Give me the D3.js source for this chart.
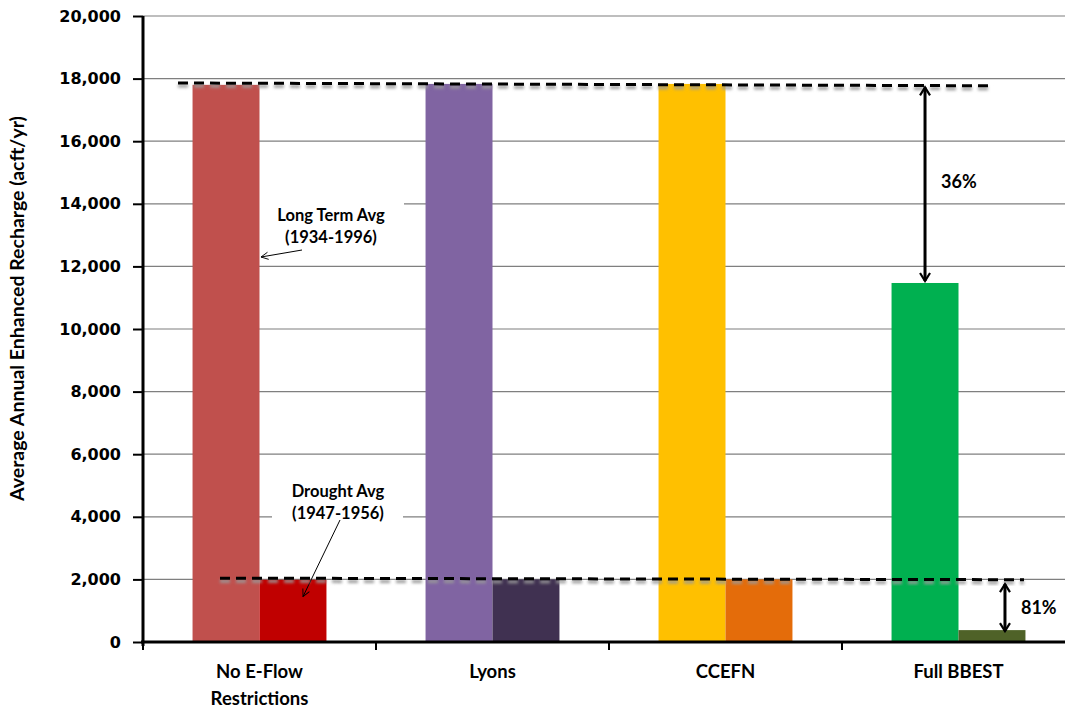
<!DOCTYPE html>
<html><head><meta charset="utf-8">
<script src="https://cdn.jsdelivr.net/npm/d3@7"></script>
<style>body{margin:0;background:#fff}svg{display:block}</style>
</head><body><svg id="c" width="1065" height="709"></svg>
<script>
const categories = ["No E-Flow Restrictions", "Lyons", "CCEFN", "Full BBEST"];
const categoryLines = [["No E-Flow", "Restrictions"], ["Lyons"], ["CCEFN"], ["Full BBEST"]];
const seriesKeys = ["Long Term Avg", "Drought Avg"];
const longTermValues = [17800, 17830, 17830, 11470];
const droughtValues = [1990, 2000, 2000, 380];
const longTermColors = ["#C0504D", "#8064A2", "#FFC000", "#00B050"];
const droughtColors = ["#C00000", "#403151", "#E46C0A", "#4F6228"];
const yTicks = [0, 2000, 4000, 6000, 8000, 10000, 12000, 14000, 16000, 18000, 20000];
const refLongTerm = [17860, 17770];
const refDrought = [2040, 1990];
const pctLabels = ["36%", "81%"];

const FONT = "Lato, 'Open Sans', sans-serif";
const svg = d3.select("#c");
const L = 143, R = 1075, T = 16, B = 642;
const y = d3.scaleLinear().domain([0, 20000]).range([B, T]);
const x0 = d3.scaleBand().domain(categories).range([L, R]).padding(0);
const x1 = d3.scaleBand().domain(seriesKeys).range([0, x0.bandwidth()]).paddingInner(0).paddingOuter(0.74);

const defs = svg.append("defs");
defs.append("filter").attr("id", "sh").attr("x", "-5%").attr("y", "-200%").attr("width", "110%").attr("height", "500%")
  .append("feGaussianBlur").attr("stdDeviation", 1.5);
defs.append("marker").attr("id", "ah").attr("viewBox", "0 0 12 12").attr("refX", 10).attr("refY", 6)
  .attr("markerWidth", 12).attr("markerHeight", 12).attr("markerUnits", "userSpaceOnUse").attr("orient", "auto-start-reverse")
  .append("path").attr("d", "M2,1 L10,6 L2,11").attr("fill", "none").attr("stroke", "#000").attr("stroke-width", 2.2);
defs.append("marker").attr("id", "ah2").attr("viewBox", "0 0 10 10").attr("refX", 9).attr("refY", 5)
  .attr("markerWidth", 9).attr("markerHeight", 9).attr("markerUnits", "userSpaceOnUse").attr("orient", "auto")
  .append("path").attr("d", "M1,1 L9,5 L1,9").attr("fill", "none").attr("stroke", "#000").attr("stroke-width", 1);

// gridlines
svg.append("g").selectAll("line").data(yTicks.filter(d => d > 0)).join("line")
  .attr("x1", L).attr("x2", R).attr("y1", d => y(d)).attr("y2", d => y(d))
  .attr("stroke", "#7f7f7f").attr("stroke-width", 1.2);

// annotation label backgrounds (under bars)
const c0 = x0(categories[0]);
const boxes = svg.append("g");
boxes.append("rect").attr("x", c0 + 115).attr("y", 200).attr("width", 146).attr("height", 48).attr("fill", "#fff");
boxes.append("rect").attr("x", c0 + 129).attr("y", 478).attr("width", 131).attr("height", 42).attr("fill", "#fff");

// bars
const g = svg.append("g").selectAll("g").data(categories).join("g")
  .attr("transform", d => `translate(${x0(d)},0)`);
g.append("rect").attr("x", x1("Long Term Avg")).attr("width", x1.bandwidth())
  .attr("y", (d, i) => y(longTermValues[i])).attr("height", (d, i) => B - y(longTermValues[i]))
  .attr("fill", (d, i) => longTermColors[i]);
g.append("rect").attr("x", x1("Drought Avg")).attr("width", x1.bandwidth())
  .attr("y", (d, i) => y(droughtValues[i])).attr("height", (d, i) => B - y(droughtValues[i]))
  .attr("fill", (d, i) => droughtColors[i]);

function label(lines, cx, baseY) {
  lines.forEach((t, i) => svg.append("text").attr("x", cx).attr("y", baseY + i * 22)
    .attr("text-anchor", "middle").attr("font-family", FONT).attr("font-weight", "bold")
    .attr("font-size", 16.5).attr("fill", "#000").text(t));
}
label(["Long Term Avg", "(1934-1996)"], c0 + 188, 221);
label(["Drought Avg", "(1947-1956)"], c0 + 195, 497);
svg.append("line").attr("x1", c0 + 159).attr("y1", 250).attr("x2", c0 + 118).attr("y2", y(12300))
  .attr("stroke", "#000").attr("stroke-width", 1).attr("marker-end", "url(#ah2)");
svg.append("line").attr("x1", c0 + 197).attr("y1", 520).attr("x2", c0 + 160).attr("y2", y(1450))
  .attr("stroke", "#000").attr("stroke-width", 1).attr("marker-end", "url(#ah2)");

// dashed reference lines with shadow
function dashed(x1p, x2p, v) {
  svg.append("line").attr("x1", x1p).attr("x2", x2p).attr("y1", y(v[0]) + 3).attr("y2", y(v[1]) + 3)
    .attr("stroke", "#999").attr("stroke-width", 3).attr("stroke-dasharray", "10,6").attr("filter", "url(#sh)");
  svg.append("line").attr("x1", x1p).attr("x2", x2p).attr("y1", y(v[0])).attr("y2", y(v[1]))
    .attr("stroke", "#000").attr("stroke-width", 3).attr("stroke-dasharray", "10,6");
}
dashed(c0 + 35, x0(categories[3]) + 152, refLongTerm);
dashed(c0 + 77, x0(categories[3]) + 182, refDrought);

// double arrows
const c3 = x0(categories[3]);
const ax1 = c3 + x1("Long Term Avg") + x1.bandwidth() / 2;
svg.append("line").attr("x1", ax1).attr("x2", ax1).attr("y1", y(17720)).attr("y2", y(longTermValues[3]) - 2)
  .attr("stroke", "#000").attr("stroke-width", 3).attr("marker-start", "url(#ah)").attr("marker-end", "url(#ah)");
svg.append("text").attr("x", ax1 + 16).attr("y", 188).attr("font-family", FONT)
  .attr("font-weight", "bold").attr("font-size", 18).text(pctLabels[0]);
const ax2 = c3 + x1("Drought Avg") + x1.bandwidth() / 2 + 13;
svg.append("line").attr("x1", ax2).attr("x2", ax2).attr("y1", y(1850)).attr("y2", y(droughtValues[3]) + 1)
  .attr("stroke", "#000").attr("stroke-width", 3).attr("marker-start", "url(#ah)").attr("marker-end", "url(#ah)");
svg.append("text").attr("x", ax2 + 16).attr("y", 614).attr("font-family", FONT)
  .attr("font-weight", "bold").attr("font-size", 18).text(pctLabels[1]);

// y axis
const ya = svg.append("g").attr("transform", `translate(${L},0)`)
  .call(d3.axisLeft(y).tickValues(yTicks).tickSize(10).tickPadding(12).tickFormat(d3.format(",")));
ya.select(".domain").attr("stroke", "#000").attr("stroke-width", 3).attr("d", `M0,${T}V${B + 4}`);
ya.selectAll(".tick line").attr("stroke", "#000").attr("stroke-width", 2);
ya.selectAll(".tick text").attr("font-family", "'DejaVu Sans', Verdana, sans-serif").attr("font-weight", "bold")
  .attr("font-size", 16).attr("fill", "#000");

// x axis
svg.append("line").attr("x1", L - 2).attr("x2", R).attr("y1", B).attr("y2", B).attr("stroke", "#000").attr("stroke-width", 3);
svg.append("g").selectAll("line").data(categories).join("line")
  .attr("x1", d => x0(d)).attr("x2", d => x0(d)).attr("y1", B).attr("y2", B + 8)
  .attr("stroke", "#000").attr("stroke-width", 2);
svg.append("g").selectAll("text").data(categories).join("text")
  .attr("x", d => x0(d) + x0.bandwidth() / 2).attr("y", 678).attr("text-anchor", "middle")
  .attr("font-family", FONT).attr("font-weight", "bold").attr("font-size", 18.5)
  .each(function (d, i) {
    d3.select(this).selectAll("tspan").data(categoryLines[i]).join("tspan")
      .attr("x", x0(d) + x0.bandwidth() / 2).attr("dy", (t, j) => j === 0 ? 0 : 27).text(t => t);
  });

// y label
svg.append("text").attr("transform", `translate(24,${(95 + 522) / 2}) rotate(-90)`).attr("text-anchor", "middle")
  .attr("font-family", FONT).attr("font-weight", "bold").attr("font-size", 19.5)
  .text("Average Annual Enhanced Recharge (acft/yr)");
</script></body></html>
